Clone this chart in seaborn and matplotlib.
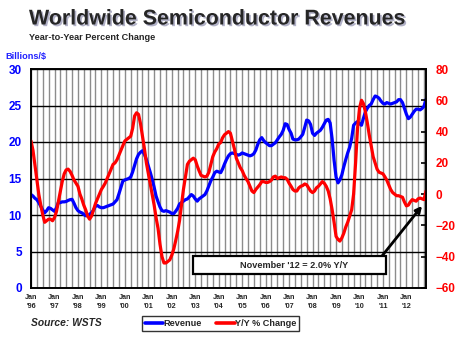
import numpy as np
import pandas as pd
import matplotlib
matplotlib.use("Agg")
import matplotlib.pyplot as plt
import matplotlib.dates as mdates
import matplotlib.patheffects as pe
from matplotlib.patches import Rectangle
import seaborn as sns

# ---------------- data (monthly, Jan 1996 - Nov 2012) ----------------
revenue = [
    12.8, 12.6, 12.3, 12.1, 11.7, 11.2, 10.7, 10.3, 10.6, 11.0, 10.9, 10.7,   # 1996
    10.5, 11.0, 11.7, 11.7, 11.8, 11.8, 11.85, 12.0, 12.1, 12.15, 11.6, 11.0,  # 1997
    10.6, 10.4, 10.3, 10.1, 9.9, 9.9, 10.1, 10.3, 10.7, 11.2, 11.3, 11.1,     # 1998
    11.0, 11.0, 11.1, 11.2, 11.3, 11.4, 11.5, 11.8, 12.1, 12.9, 13.8, 14.65,  # 1999
    14.8, 14.9, 15.0, 15.2, 15.9, 16.8, 17.7, 18.3, 18.6, 18.8, 18.3, 17.6,   # 2000
    16.7, 15.8, 14.9, 13.8, 12.6, 11.8, 11.1, 10.6, 10.5, 10.6, 10.5, 10.4,   # 2001
    10.2, 10.2, 10.5, 10.9, 11.5, 11.7, 11.9, 12.1, 12.2, 12.5, 12.8, 12.6,   # 2002
    12.2, 11.9, 12.2, 12.4, 12.6, 12.8, 13.3, 14.0, 14.7, 15.2, 15.8, 16.0,   # 2003
    15.9, 15.8, 16.3, 17.0, 17.6, 18.1, 18.4, 18.5, 18.4, 18.3, 18.2, 18.3,   # 2004
    18.5, 18.4, 18.3, 18.2, 18.1, 18.2, 18.4, 18.9, 19.7, 20.3, 20.6, 20.2,   # 2005
    19.9, 19.7, 19.5, 19.5, 19.7, 19.9, 20.3, 20.7, 21.05, 21.6, 22.5, 22.4,  # 2006
    21.7, 21.2, 20.4, 20.3, 20.3, 20.4, 20.7, 21.05, 22.0, 23.0, 22.9, 22.4,  # 2007
    21.2, 20.9, 21.2, 21.4, 21.6, 22.0, 22.5, 23.0, 23.1, 22.6, 20.4, 17.5,   # 2008
    15.2, 14.4, 14.8, 15.5, 16.6, 17.6, 18.5, 19.3, 20.5, 22.3, 22.6, 22.8,   # 2009
    22.5, 22.3, 23.2, 24.1, 24.6, 25.0, 25.2, 25.8, 26.3, 26.2, 26.0, 25.6,   # 2010
    25.3, 25.2, 25.4, 25.3, 25.2, 25.3, 25.4, 25.5, 25.8, 25.8, 25.4, 24.6,   # 2011
    23.8, 23.2, 23.4, 23.8, 24.2, 24.5, 24.5, 24.4, 24.6, 24.9, 25.85,        # 2012
]

yoy_change = [
    34, 28, 19, 9, 0, -7, -13, -18, -17, -16, -16, -17,          # 1996
    -15, -11, -5, 2, 8, 13, 15.5, 16, 14.5, 12, 9, 7,            # 1997
    5, 0, -3, -7, -10, -14, -16, -14, -10, -6, -3, 0,            # 1998
    3, 5, 7, 10, 13, 16, 19, 20, 22, 25, 28, 31,                 # 1999
    34, 35, 36, 37, 42, 50, 52, 51, 45, 37, 29, 20,              # 2000
    13, 6, 0, -7, -15, -22, -32, -40, -44, -44, -43, -42,        # 2001
    -39, -35, -30, -24, -17, -7, 3, 11, 19, 21, 22, 23,          # 2002
    22, 18, 15, 12, 11.5, 11, 11.5, 14, 19, 24, 27, 29,          # 2003
    32, 33, 36, 38, 39, 40, 39, 34, 29, 23, 20, 17,              # 2004
    15, 12, 10, 8, 5, 2, 1, 3, 4.5, 6, 8, 8,                     # 2005
    7.5, 7.5, 8, 9, 11, 11.5, 10, 10.5, 11, 10.5, 10.5, 9.5,     # 2006
    7, 5, 3, 2, 2, 4, 5, 5.5, 6.5, 6, 4, 2,                      # 2007
    1, 2, 4, 5, 6.5, 8, 7, 5, 2, -3, -10, -18,                   # 2008
    -27, -29, -30, -28, -25, -21, -18, -14, -10, 0, 20, 42,      # 2009
    55, 60, 58, 53, 46, 38, 31, 24, 20, 16, 14, 13.5,            # 2010
    13, 11, 9, 6, 3, 1, 0, -1, -1, -1.5, -2, -5,                 # 2011
    -7.5, -7, -5, -3.5, -4, -4.5, -3, -2.5, -3, -3.5, 2.0,       # 2012
]

start_month = "1996-01-01"
left_ticks = [0, 5, 10, 15, 20, 25, 30]
right_ticks = [-60, -40, -20, 0, 20, 40, 60, 80]
title = "Worldwide Semiconductor Revenues"
subtitle = "Year-to-Year Percent Change"
left_label = "Billions/$"
source = "Source: WSTS"
note = "November '12 = 2.0% Y/Y"
series_names = ["Revenue", "Y/Y % Change"]

dates = pd.date_range(start_month, periods=len(revenue), freq="MS")
df = pd.DataFrame({"date": dates, "revenue": revenue, "yoy": yoy_change})

# ---------------- style ----------------
sns.set_style("white")
plt.rcParams["font.family"] = ["Liberation Sans", "DejaVu Sans"]

BLUE = "#0000FF"
RED = "#FF0000"

W, H = 462, 358
fig = plt.figure(figsize=(W / 100, H / 100), dpi=100)
ax = fig.add_axes([31 / W, 1 - 288 / H, (426 - 31) / W, (288 - 69) / H])
ax2 = ax.twinx()

sns.lineplot(data=df, x="date", y="revenue", ax=ax, color=BLUE, lw=2.3,
             label=series_names[0], legend=False)
sns.lineplot(data=df, x="date", y="yoy", ax=ax2, color=RED, lw=2.3,
             label=series_names[1], legend=False)

ax.set_xlim(dates[0], dates[-1])
ax.set_ylim(0, 30)
ax2.set_ylim(-60, 80)
ax.set_yticks(left_ticks)
ax2.set_yticks(right_ticks)
ax.set_xlabel("")
ax.set_ylabel("")
ax2.set_ylabel("")

# x ticks: Jan of each year; gridlines every quarter
ax.xaxis.set_major_locator(mdates.YearLocator())
ax.xaxis.set_minor_locator(mdates.MonthLocator(bymonth=[1, 4, 7, 10]))
ax.xaxis.set_major_formatter(mdates.DateFormatter("Jan\n'%y"))
ax.tick_params(axis="x", which="both", length=0, pad=4.5)
for lab in ax.get_xticklabels():
    lab.set_fontsize(5.2)
    lab.set_fontweight("bold")
    lab.set_linespacing(1.25)

ax.grid(False)
ax.grid(axis="x", which="minor", color="#8c8c8c", lw=1.0)
ax.grid(axis="x", which="major", color="#8c8c8c", lw=1.0)
ax.grid(axis="y", which="major", color="black", lw=1.0)
ax.set_axisbelow(True)
ax2.grid(False)

ax.tick_params(axis="y", length=0, pad=6.5, labelsize=8.5, labelcolor=BLUE)
for lab in ax.get_yticklabels():
    lab.set_fontweight("bold")
ax2.tick_params(axis="y", direction="in", length=3.5, width=1.2, pad=7,
                labelsize=8.5, labelcolor=RED, color="black")
for lab in ax2.get_yticklabels():
    lab.set_fontweight("bold")

for a in (ax, ax2):
    for s in a.spines.values():
        s.set_color("black")
        s.set_linewidth(1.2)

# ---------------- texts ----------------
fig.text(29 / W, 1 - 24.5 / H, title, fontsize=15.4, fontweight="bold",
         ha="left", va="baseline",
         path_effects=[pe.SimplePatchShadow(offset=(1.2, -1.2), shadow_rgbFace="#9090b0", alpha=0.7),
                       pe.Normal()])
fig.text(29 / W, 1 - 39.5 / H, subtitle, fontsize=6.6, fontweight="bold",
         ha="left", va="baseline")
fig.text(5 / W, 1 - 59.5 / H, left_label, fontsize=6.6, fontweight="bold",
         color="#2020ff", ha="left", va="baseline")
fig.text(31 / W, 1 - 325.5 / H, source, fontsize=7.4, fontweight="bold",
         style="italic", ha="left", va="baseline")

# legend
handles = [ax.get_lines()[0], ax2.get_lines()[0]]
leg = fig.legend(handles, series_names, loc="center", ncol=2,
                 bbox_to_anchor=(220.5 / W, 1 - 323.5 / H),
                 prop={"weight": "bold", "size": 6.6},
                 frameon=True, fancybox=False, edgecolor="black",
                 handlelength=2.0, handletextpad=0.0, columnspacing=1.6,
                 borderpad=0.35, borderaxespad=0)
leg.get_frame().set_linewidth(1.0)
for l in leg.get_lines():
    l.set_linewidth(2.6)

# annotation box + arrow
ax2.annotate("", xy=(0.99, 0.375), xycoords="axes fraction",
             xytext=(382 / W, 1 - 256 / H), textcoords="figure fraction",
             arrowprops=dict(arrowstyle="-|>", color="black", lw=2.0,
                             mutation_scale=9, shrinkA=0, shrinkB=0))
fig.patches.append(Rectangle((193 / W, 1 - 274 / H), 193 / W, 18 / H,
                             transform=fig.transFigure, facecolor="white",
                             edgecolor="black", lw=1.6, zorder=5))
fig.text(294 / W, 1 - 265 / H, note, fontsize=6.6, fontweight="bold",
         ha="center", va="center", zorder=6)

fig.savefig("out.png", dpi=100)
